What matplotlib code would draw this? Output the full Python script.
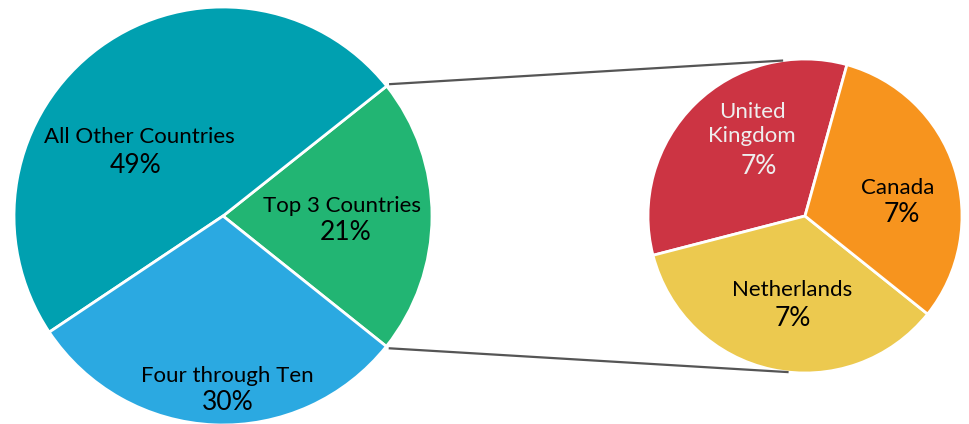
import numpy as np
import matplotlib.pyplot as plt

# Data
main_labels = ["Top 3 Countries", "All Other Countries", "Four through Ten"]
main_values = [21.4, 48.7, 29.9]
main_colors = ["#22B573", "#00A0B0", "#2BA9E1"]

sub_labels = ["United\nKingdom", "Netherlands", "Canada"]
sub_values = [7.0, 7.4, 6.6]
sub_colors = ["#CC3443", "#ECC94F", "#F7941E"]
sub_text_colors = ["#EEEEEE", "black", "black"]

W, H = 969, 424
fig = plt.figure(figsize=(W / 100, H / 100), dpi=100)
ax = fig.add_axes([0, 0, 1, 1])

# pie geometry (pixel units, y up)
c1, r1 = (223, 208), 209
c2, r2 = (805, 208), 157
start1 = -38.6
start2 = 74.5

wp = dict(edgecolor="white", linewidth=2)
w1, _ = ax.pie(main_values, colors=main_colors, center=c1, radius=r1,
               startangle=start1, counterclock=True, wedgeprops=wp)
w2, _ = ax.pie(sub_values, colors=sub_colors, center=c2, radius=r2,
               startangle=start2, counterclock=True, wedgeprops=wp)

# connector lines from the "Top 3" wedge to the breakdown pie
a_top = np.radians(w1[0].theta2)
a_bot = np.radians(w1[0].theta1)
for a1, a2 in [(a_top, np.radians(98)), (a_bot, np.radians(-96))]:
    x0 = c1[0] + (r1 + 3) * np.cos(a1)
    y0 = c1[1] + (r1 + 3) * np.sin(a1)
    x1 = c2[0] + r2 * np.cos(a2)
    y1 = c2[1] + r2 * np.sin(a2)
    ax.plot([x0, x1], [y0, y1], color="#555555", lw=1.6, solid_capstyle="butt")

font = "Lato"
name_size = 16
pct_size = 19
# label baselines (pixel coords from top): name, percent
main_pos = [(342.5, 211.5, 345.5, 240.5),
            (139, 143, 136, 173),
            (227.5, 382.5, 228, 410.5)]
sub_pos = [(752, 141.5, 759, 174),
           (792, 296.5, 792.5, 326),
           (898, 194, 902, 222.5)]

for lab, v, (lx, ly, px, py) in zip(main_labels, main_values, main_pos):
    ax.text(lx, H - ly, lab, ha="center", va="baseline", fontsize=name_size,
            family=font, color="black")
    ax.text(px, H - py, f"{round(v)}%", ha="center", va="baseline",
            fontsize=pct_size, family=font, color="black")

for lab, v, tc, (lx, ly, px, py) in zip(sub_labels, sub_values, sub_text_colors, sub_pos):
    ax.text(lx, H - ly, lab, ha="center", va="baseline", fontsize=name_size,
            family=font, color=tc, linespacing=1.2, multialignment="center")
    ax.text(px, H - py, f"{round(v)}%", ha="center", va="baseline",
            fontsize=pct_size, family=font, color=tc)

ax.set_xlim(0, W)
ax.set_ylim(0, H)
ax.set_aspect("equal")
ax.axis("off")

fig.savefig("out.png", dpi=100)
